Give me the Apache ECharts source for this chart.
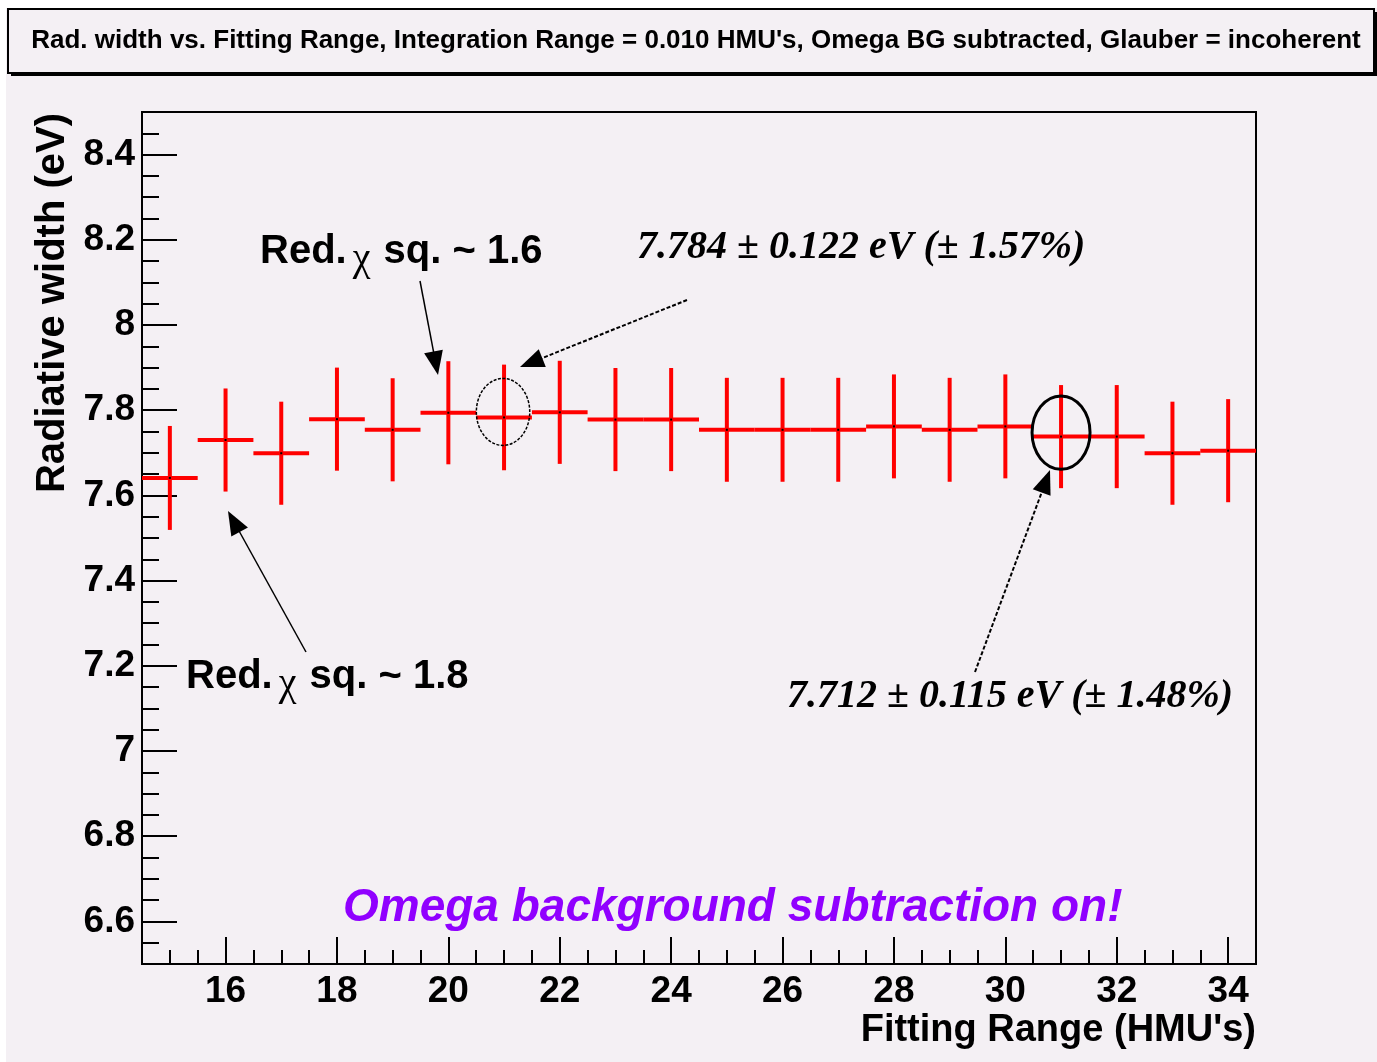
<!DOCTYPE html>
<html><head><meta charset="utf-8">
<script src="https://cdn.jsdelivr.net/npm/echarts@6/dist/echarts.min.js"></script>
<style>html,body{margin:0;padding:0;background:#fff;}#c{width:1377px;height:1062px;}</style>
</head><body><div id="c"></div>
<script>
// ---- data ----
const fitRange = [15,16,17,18,19,20,21,22,23,24,25,26,27,28,29,30,31,32,33,34];
const radWidth = [7.641,7.730,7.699,7.779,7.754,7.794,7.783,7.795,7.778,7.778,7.754,7.754,7.754,7.762,7.754,7.762,7.738,7.738,7.699,7.705];
const radErr   = [0.122,0.121,0.121,0.121,0.121,0.121,0.124,0.121,0.121,0.121,0.122,0.122,0.122,0.122,0.122,0.122,0.121,0.121,0.121,0.121];
const binHalfWidth = 0.5;
const circledRanges = [21, 31];
const xTicks = [16,18,20,22,24,26,28,30,32,34];
const yTicks = [6.6,6.8,7,7.2,7.4,7.6,7.8,8,8.2,8.4];
const titleText = "Rad. width vs. Fitting Range, Integration Range = 0.010 HMU's, Omega BG subtracted, Glauber = incoherent";
const xTitle = "Fitting Range (HMU's)";
const yTitle = "Radiative width (eV)";

const SANS = "'Liberation Sans', Arial, sans-serif";
const SERIF = "'Liberation Serif', 'Times New Roman', serif";
const BG = '#f4f0f4';

const points = fitRange.map((x,i)=>[x, radWidth[i], radErr[i], binHalfWidth]);
const circled = circledRanges.map(x=>{const i=fitRange.indexOf(x);return [x, radWidth[i]];});
const ellipseStyle = [ {dx:-1, dy:-5.5, rx:26.7, ry:33.5, lw:1.5, dash:[3,1.5]}, {dx:0, dy:-4, rx:29, ry:36.7, lw:3, dash:null} ];

function arrow(x1,y1,x2,y2,lw,dash){
  const dx=x2-x1, dy=y2-y1, L=Math.hypot(dx,dy), ux=dx/L, uy=dy/L;
  const hl=24, hw=9.5, bx=x2-ux*hl, by=y2-uy*hl;
  return [
    {type:'line', shape:{x1:x1,y1:y1,x2:bx+ux*2,y2:by+uy*2}, style:{stroke:'#000', lineWidth:lw, lineDash:dash||null}},
    {type:'polygon', shape:{points:[[x2,y2],[bx-uy*hw,by+ux*hw],[bx+uy*hw,by-ux*hw]]}, style:{fill:'#000'}}
  ];
}

const chart = echarts.init(document.getElementById('c'), null, {renderer:'canvas'});
const graphics = [
  {type:'rect', shape:{x:0,y:0,width:1377,height:8}, style:{fill:'#fff'}, z:0},
  {type:'rect', shape:{x:0,y:0,width:6,height:1062}, style:{fill:'#fff'}, z:0},
  {type:'rect', shape:{x:11,y:12,width:1366,height:64}, style:{fill:'#000'}, z:0},
  {type:'rect', shape:{x:8,y:9,width:1366,height:64}, style:{fill:BG, stroke:'#000', lineWidth:2}, z:1},
  {type:'text', x:696, y:41, z:2, style:{text:titleText, font:"bold 26px "+SANS, fill:'#000', align:'center', verticalAlign:'middle'}},
  {type:'text', x:260, y:252, z:5, style:{text:'{a|Red.}{c|χ}{a| sq. ~ 1.6}', align:'left', verticalAlign:'middle',
     rich:{a:{font:"bold 40px "+SANS, fill:'#000'}, c:{font:"40px "+SERIF, fill:'#000', padding:[14,2,0,6]}}}},
  {type:'text', x:186, y:677, z:5, style:{text:'{a|Red.}{c|χ}{a| sq. ~ 1.8}', align:'left', verticalAlign:'middle',
     rich:{a:{font:"bold 40px "+SANS, fill:'#000'}, c:{font:"40px "+SERIF, fill:'#000', padding:[14,2,0,6]}}}},
  {type:'text', x:637, y:248, z:5, style:{text:'7.784 ± 0.122 eV (± 1.57%)', font:"italic bold 40px "+SERIF, fill:'#000', align:'left', verticalAlign:'middle'}},
  {type:'text', x:787, y:697, z:5, style:{text:'7.712 ± 0.115 eV (± 1.48%)', font:"italic bold 40px "+SERIF, fill:'#000', align:'left', verticalAlign:'middle'}},
  {type:'text', x:343, y:908, z:5, style:{text:'Omega background subtraction on!', font:"italic bold 46px "+SANS, fill:'#9000ff', align:'left', verticalAlign:'middle'}}
].concat(
  arrow(420,281,438,375,1.5,null),
  arrow(687,300,520,367,2,[4,2]),
  arrow(306,652,228,511,1.5,null),
  arrow(975,672,1050,470,2,[4,2])
);

const option = {
  backgroundColor: BG,
  animation: false,
  grid: {left:142, top:112, width:1114, height:852, show:true, borderColor:'#000', borderWidth:2, backgroundColor:'transparent'},
  xAxis: [
    {type:'value', min:14.5, max:34.5, position:'bottom',
     axisLine:{show:true, lineStyle:{color:'#000', width:2}},
     axisTick:{show:true, inside:true, length:27, customValues:xTicks, lineStyle:{color:'#000', width:2}},
     axisLabel:{show:true, customValues:xTicks, margin:9, fontSize:37, fontWeight:'bold', color:'#000', fontFamily:SANS},
     splitLine:{show:false},
     name:xTitle, nameLocation:'end', nameGap:0,
     nameTextStyle:{fontSize:38, fontWeight:'bold', color:'#000', fontFamily:SANS, align:'right', verticalAlign:'top', padding:[48,0,0,0]}},
    {type:'value', min:14.5, max:34.5, interval:0.5, position:'bottom',
     axisLine:{show:false}, axisLabel:{show:false}, splitLine:{show:false},
     axisTick:{show:true, inside:true, length:14, lineStyle:{color:'#000', width:2}}}
  ],
  yAxis: [
    {type:'value', min:6.5, max:8.5, position:'left',
     axisLine:{show:true, lineStyle:{color:'#000', width:2}},
     axisTick:{show:true, inside:true, length:35, customValues:yTicks, lineStyle:{color:'#000', width:2}},
     axisLabel:{show:true, customValues:yTicks, margin:7, fontSize:37, fontWeight:'bold', color:'#000', fontFamily:SANS},
     splitLine:{show:false},
     name:yTitle, nameLocation:'end', nameGap:-1, nameRotate:90,
     nameTextStyle:{fontSize:40, fontWeight:'bold', color:'#000', fontFamily:SANS, align:'right', verticalAlign:'bottom', padding:[0,0,69,0]}},
    {type:'value', min:6.5, max:8.5, interval:0.05, position:'left',
     axisLine:{show:false}, axisLabel:{show:false}, splitLine:{show:false},
     axisTick:{show:true, inside:true, length:17, lineStyle:{color:'#000', width:2}}}
  ],
  series: [
    {type:'custom', xAxisIndex:0, yAxisIndex:0, data:points, z:3, clip:false,
     renderItem:function(params, api){
       const x=api.value(0), y=api.value(1), e=api.value(2), xe=api.value(3);
       const c=api.coord([x,y]), t=api.coord([x,y+e]), b=api.coord([x,y-e]);
       const l=api.coord([x-xe,y]), r=api.coord([x+xe,y]);
       return {type:'group', children:[
         {type:'line', shape:{x1:l[0],y1:c[1],x2:r[0],y2:c[1]}, style:{stroke:'#ff0000', lineWidth:4}},
         {type:'line', shape:{x1:c[0],y1:t[1],x2:c[0],y2:b[1]}, style:{stroke:'#ff0000', lineWidth:4}},
         {type:'rect', shape:{x:c[0]-1,y:c[1]-1,width:2,height:2}, style:{fill:'#000'}}
       ]};
     }},
    {type:'custom', xAxisIndex:0, yAxisIndex:0, data:circled, z:4, clip:false,
     renderItem:function(params, api){
       const c=api.coord([api.value(0), api.value(1)]);
       const s=ellipseStyle[params.dataIndex];
       const cx=c[0]+s.dx, cy=c[1]+s.dy;
       const d='M '+(cx-s.rx)+' '+cy+' A '+s.rx+' '+s.ry+' 0 1 0 '+(cx+s.rx)+' '+cy+' A '+s.rx+' '+s.ry+' 0 1 0 '+(cx-s.rx)+' '+cy+' Z';
       return {type:'path', shape:{pathData:d}, style:{fill:null, stroke:'#000', lineWidth:s.lw, lineDash:s.dash}};
     }}
  ],
  graphic: graphics
};
chart.setOption(option);
</script>
</body></html>
